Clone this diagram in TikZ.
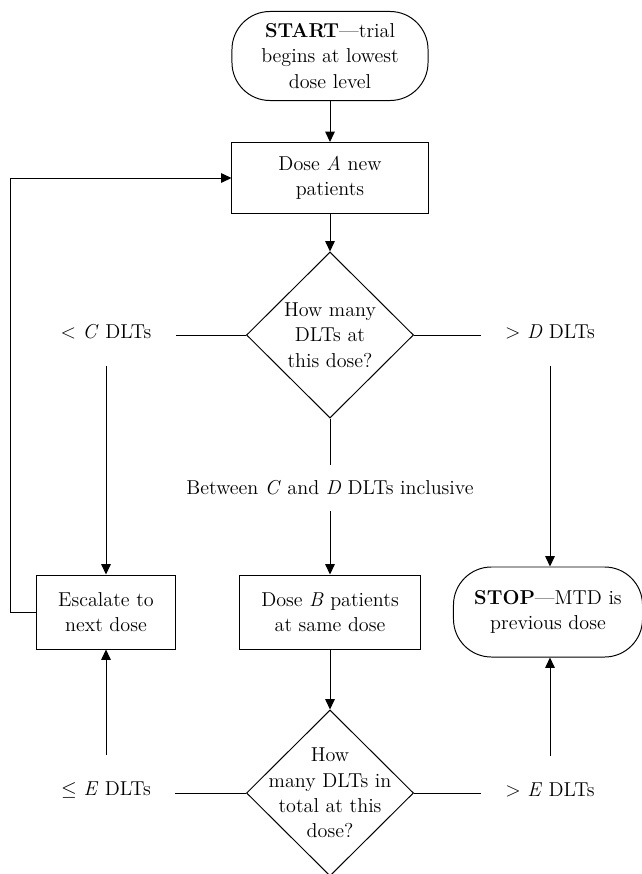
\documentclass[tikz,border=0pt]{standalone}
\usetikzlibrary{arrows.meta,shapes.geometric}

\begin{document}
\begin{tikzpicture}[x=0.025cm,y=-0.025cm,
  every node/.style={font=\fontsize{14.3}{18}\selectfont,align=center},
  box/.style={draw=black,line width=0.7pt,rectangle,inner sep=0pt},
  term/.style={draw=black,line width=0.7pt,rectangle,rounded corners=0.95cm,inner sep=0pt},
  ask/.style={draw=black,line width=0.7pt,diamond,inner sep=-1cm,minimum width=4.175cm,minimum height=4.15cm},
  lbl/.style={inner xsep=0.6cm,inner ysep=0.66cm},
  ln/.style={line width=0.7pt},
  arr/.style={line width=0.7pt,-{Triangle[length=2.6mm,width=2.4mm]}}]
  \useasboundingbox (0,0) rectangle (642,874);
  % узлы схемы
  \node[term,minimum width=4.9cm,minimum height=2.225cm] (start) at (330,56) {\textbf{START}---trial\\begins at lowest\\dose level};
  \node[box,minimum width=4.9cm,minimum height=1.775cm] (doseA) at (330,178) {Dose \textit{A} new\\patients};
  \node[ask] (q1) at (330,335) {How many\\DLTs at\\this dose?};
  \node[lbl] (ltC) at (106,332) {$<$ \textit{C} DLTs};
  \node[lbl] (gtD) at (550,332) {$>$ \textit{D} DLTs};
  \node[lbl,inner ysep=0.38cm] (between) at (330,488) {Between \textit{C} and \textit{D} DLTs inclusive};
  \node[box,minimum width=3.475cm,minimum height=1.85cm] (esc) at (106,612) {Escalate to\\next dose};
  \node[box,minimum width=4.525cm,minimum height=1.85cm] (doseB) at (330,612) {Dose \textit{B} patients\\at same dose};
  \node[term,minimum width=4.725cm,minimum height=2.25cm] (stop) at (548,612) {\textbf{STOP}---MTD is\\previous dose};
  \node[ask] (q2) at (330,793) {How\\many DLTs in\\total at this\\dose?};
  \node[lbl] (leE) at (106,790) {$\leq$ \textit{E} DLTs};
  \node[lbl] (gtE) at (550,790) {$>$ \textit{E} DLTs};
  \coordinate (back) at (10,612);

  % связи
  \draw[arr] (start) -- (doseA);
  \draw[arr] (doseA) -- (q1);
  \draw[ln] (q1.west) -- (q1.west -| ltC.east);
  \draw[ln] (q1.east) -- (q1.east -| gtD.west);
  \draw[arr] (ltC.south) -- (esc.north);
  \draw[arr] (gtD.south) -- (gtD.south |- stop.north);
  \draw[ln] (q1.south) -- (between.north);
  \draw[arr] (between.south) -- (doseB.north);
  \draw[arr] (doseB) -- (q2);
  \draw[ln] (q2.west) -- (q2.west -| leE.east);
  \draw[ln] (q2.east) -- (q2.east -| gtE.west);
  \draw[arr] (leE.north) -- (esc.south);
  \draw[arr] (gtE.north) -- (gtE.north |- stop.south);
  \draw[arr] (esc.west) -- (back) |- (doseA.west);
\end{tikzpicture}
\end{document}
